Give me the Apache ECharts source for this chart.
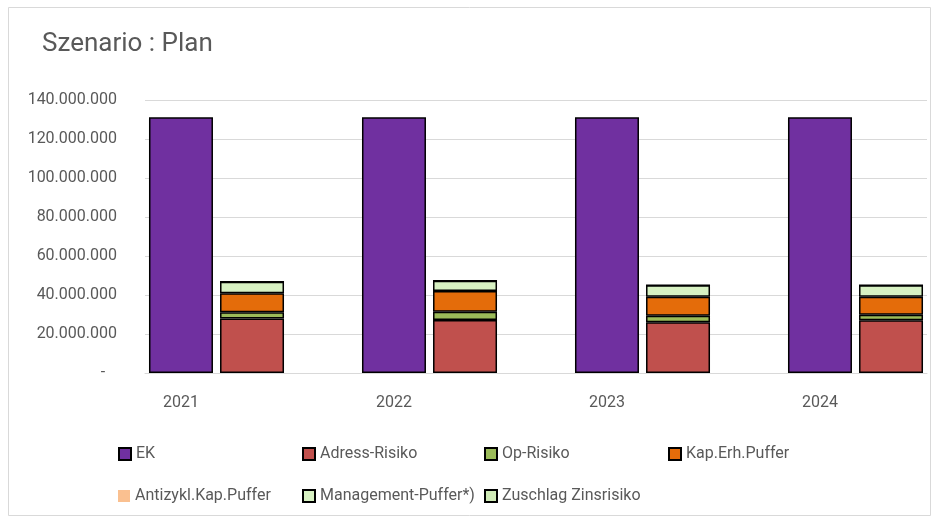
<!DOCTYPE html>
<html>
<head>
<meta charset="utf-8">
<script src="https://cdn.jsdelivr.net/npm/echarts@6/dist/echarts.min.js"></script>
<style>
html,body{margin:0;padding:0;background:#fff;overflow:hidden;width:937px;height:522px;}
#chart{width:962px;height:522px;}
</style>
</head>
<body>
<div id="chart"></div>
<script>
var categories = ['2021', '2022', '2023', '2024'];
var ek = [131200000, 131200000, 131200000, 131200000];
var adressRisiko = [28000000, 27200000, 26000000, 27000000];
var opRisiko = [3100000, 4200000, 3400000, 2900000];
var kapErhPuffer = [9800000, 10600000, 9700000, 9200000];
var antizyklKapPuffer = [0, 0, 0, 0];
var managementPuffer = [5900000, 5300000, 5900000, 5900000];
var zuschlagZinsrisiko = [0, 0, 0, 0];
var yTicks = [0, 20000000, 40000000, 60000000, 80000000, 100000000, 120000000, 140000000];

var FONT = 'Roboto';
var GREY = '#595959';

function fmt(v) {
  if (v === 0) return '-   ';
  return String(Math.round(v)).replace(/\B(?=(\d{3})+(?!\d))/g, '.');
}

var border = { borderColor: '#000', borderWidth: 1.5 };

var series = [
  { name: 'EK', type: 'bar', xAxisIndex: 1, yAxisIndex: 1, data: ek, barWidth: 64, barGap: '11%',
    itemStyle: Object.assign({ color: '#7030A0' }, border) },
  { name: 'Adress-Risiko', type: 'bar', stack: 'r', xAxisIndex: 1, yAxisIndex: 1, data: adressRisiko, barWidth: 64,
    itemStyle: Object.assign({ color: '#C0504D' }, border) },
  { name: 'Op-Risiko', type: 'bar', stack: 'r', xAxisIndex: 1, yAxisIndex: 1, data: opRisiko, barWidth: 64,
    itemStyle: Object.assign({ color: '#9BBB59' }, border) },
  { name: 'Kap.Erh.Puffer', type: 'bar', stack: 'r', xAxisIndex: 1, yAxisIndex: 1, data: kapErhPuffer, barWidth: 64,
    itemStyle: Object.assign({ color: '#E46C0A' }, border) },
  { name: 'Antizykl.Kap.Puffer', type: 'bar', stack: 'r', xAxisIndex: 1, yAxisIndex: 1, data: antizyklKapPuffer, barWidth: 64,
    itemStyle: { color: '#FAC090', borderWidth: 0 } },
  { name: 'Management-Puffer*)', type: 'bar', stack: 'r', xAxisIndex: 1, yAxisIndex: 1, data: managementPuffer, barWidth: 64,
    itemStyle: Object.assign({ color: '#D7F1C2' }, border) },
  { name: 'Zuschlag Zinsrisiko', type: 'bar', stack: 'r', xAxisIndex: 1, yAxisIndex: 1, data: zuschlagZinsrisiko, barWidth: 64,
    itemStyle: Object.assign({ color: '#CFEAB6' }, border) }
];

var legendPos = [
  [118, 446], [302, 446], [484, 446], [668, 446],
  [118, 488], [302, 488], [484, 488]
];
var legends = series.map(function (s, i) {
  return {
    data: [s.name],
    left: legendPos[i][0], top: legendPos[i][1],
    padding: 0, itemWidth: 12, itemHeight: 12, icon: 'rect', itemGap: 0,
    selectedMode: false,
    textStyle: { color: GREY, fontFamily: FONT, fontSize: 16 }
  };
});

var chart = echarts.init(document.getElementById('chart'), null, { renderer: 'canvas' });
chart.setOption({
  backgroundColor: '#fff',
  animation: false,
  title: {
    text: 'Szenario : Plan', left: 37, top: 26,
    textStyle: { color: GREY, fontFamily: FONT, fontSize: 26, fontWeight: 'normal' }
  },
  graphic: [{
    type: 'rect', shape: { x: 8.5, y: 7.5, width: 922, height: 508 },
    style: { fill: 'none', stroke: '#d9d9d9', lineWidth: 1 }, silent: true, z: -10
  }],
  legend: legends,
  grid: [
    { left: 145, width: 782, top: 100, height: 273 },
    { left: 110, width: 852, top: 100, height: 273 }
  ],
  xAxis: [
    { type: 'category', gridIndex: 0, data: categories,
      axisLine: { show: true, lineStyle: { color: '#d9d9d9', width: 1 } },
      axisTick: { show: false }, axisLabel: { show: false }, splitLine: { show: false } },
    { type: 'category', gridIndex: 1, data: categories,
      axisLine: { show: false }, axisTick: { show: false }, splitLine: { show: false },
      axisLabel: { color: GREY, fontFamily: FONT, fontSize: 16, margin: 22, padding: [0, 71, 0, 0] } }
  ],
  yAxis: [
    { type: 'value', gridIndex: 0, min: 0, max: 140000000, interval: 20000000,
      axisLine: { show: false }, axisTick: { show: false },
      splitLine: { show: true, lineStyle: { color: '#d9d9d9', width: 1 } },
      axisLabel: { color: GREY, fontFamily: FONT, fontSize: 16, margin: 28,
        formatter: function (v) { return yTicks.indexOf(v) >= 0 ? fmt(v) : ''; } } },
    { type: 'value', gridIndex: 1, min: 0, max: 140000000, interval: 20000000, show: false,
      splitLine: { show: false } }
  ],
  series: series
});
</script>
</body>
</html>
